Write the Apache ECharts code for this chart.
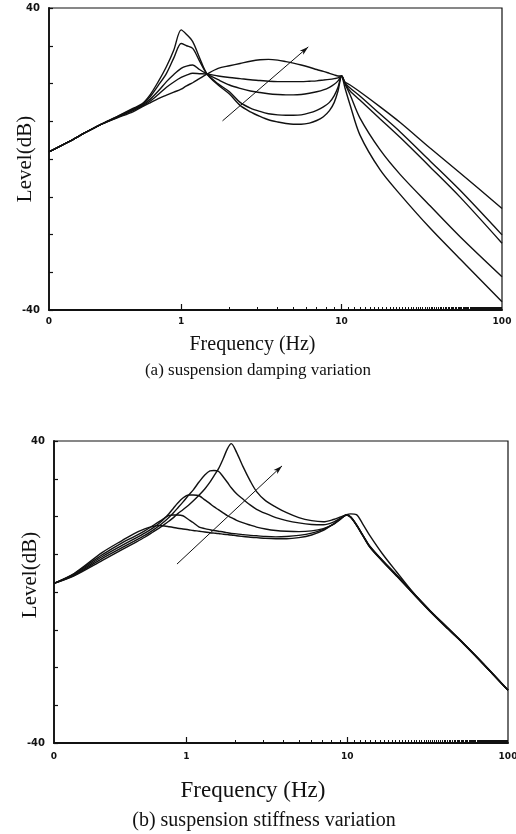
<!DOCTYPE html>
<html>
<head>
<meta charset="utf-8">
<script src="https://cdn.jsdelivr.net/npm/echarts@6/dist/echarts.min.js"></script>
<style>
  html, body { margin: 0; padding: 0; background: #ffffff; }
  #chart { width: 516px; height: 834px; }
</style>
</head>
<body>
<div id="chart"></div>
<script>
// ---- (a) suspension damping variation: level (dB) vs frequency (Hz) ----
const freqDamping = [0.15, 0.2, 0.25, 0.31, 0.4, 0.5, 0.57, 0.64, 0.72, 0.81, 0.9, 1.0, 1.08, 1.18, 1.3, 1.45,
  1.7, 2.0, 2.33, 2.7, 3.1, 3.5, 4.0, 4.5, 5.0, 5.6, 6.3, 7.0, 7.7, 8.4, 9.0, 9.5, 10.0, 10.5, 11.3, 13.0,
  17.4, 23.3, 35.6, 54.8, 100];
// lightest damping
const damping1 = [1.9, 4.6, 6.9, 9.0, 11.3, 13.4, 14.6, 17.0, 20.5, 24.5, 28.9, 34.2, 33.0, 31.1, 26.9, 22.5,
  19.6, 17.2, 14.2, 12.5, 11.3, 10.4, 9.8, 9.4, 9.2, 9.2, 9.5, 10.2, 11.2, 12.8, 15.0, 18.0, 22.0, 18.8, 14.3, 6.4,
  -2.9, -9.5, -18.3, -26.5, -37.8];
const damping2 = [1.9, 4.6, 6.9, 9.0, 11.2, 13.2, 14.4, 16.5, 19.5, 22.7, 26.8, 30.6, 30.0, 29.3, 26.0, 22.5,
  19.9, 17.8, 15.0, 13.5, 12.6, 12.0, 11.7, 11.6, 11.6, 11.7, 12.2, 12.9, 13.8, 15.0, 16.8, 19.0, 22.0, 19.9, 17.0, 10.9,
  2.4, -4.2, -12.4, -20.6, -31.2];
const damping3 = [1.9, 4.6, 6.9, 9.0, 11.1, 13.0, 14.2, 15.8, 18.0, 20.5, 22.4, 24.0, 24.6, 24.9, 23.7, 22.5,
  21.0, 19.6, 18.7, 18.0, 17.6, 17.3, 17.1, 17.0, 17.0, 17.1, 17.4, 17.8, 18.3, 19.0, 19.8, 20.7, 22.0, 20.0, 18.0, 15.6,
  10.6, 5.6, -2.1, -10.1, -22.3];
const damping4 = [1.9, 4.6, 6.9, 9.0, 11.0, 12.8, 14.0, 15.3, 17.1, 19.0, 20.4, 21.6, 22.2, 22.7, 22.6, 22.5,
  22.0, 21.6, 21.3, 21.0, 20.8, 20.6, 20.5, 20.5, 20.5, 20.5, 20.6, 20.7, 20.9, 21.1, 21.3, 21.5, 22.0, 20.0, 18.8, 16.7,
  11.9, 7.1, -0.5, -8.3, -20.1];
// heaviest damping
const damping5 = [1.9, 4.6, 6.9, 9.0, 10.9, 12.5, 13.8, 14.9, 16.0, 16.9, 17.7, 18.5, 19.4, 20.2, 21.3, 22.5,
  24.0, 24.7, 25.3, 25.9, 26.3, 26.4, 26.2, 25.8, 25.4, 24.9, 24.3, 23.7, 23.2, 22.7, 22.3, 22.0, 22.0, 20.4, 19.6, 17.8,
  13.8, 9.6, 2.9, -3.7, -13.1];

// ---- (b) suspension stiffness variation ----
const freqStiffness = [0.15, 0.2, 0.3, 0.4, 0.47, 0.55, 0.62, 0.68, 0.73, 0.78, 0.83, 0.88, 0.95, 1.03, 1.1, 1.2,
  1.3, 1.4, 1.48, 1.58, 1.7, 1.8, 1.9, 2.05, 2.26, 2.5, 2.73, 3.1, 3.6, 4.2, 5.0, 6.0, 7.1, 8.2, 9.1, 9.9, 10.5,
  11.4, 12.5, 13.8, 16.5, 20.3, 26, 32.6, 42, 52.7, 70, 100];
// softest spring
const stiffness1 = [2.3, 4.9, 10.5, 13.7, 15.4, 16.7, 17.4, 17.6, 17.5, 17.3, 17.1, 16.9, 16.7, 16.5, 16.3, 16.1,
  15.9, 15.7, 15.6, 15.5, 15.3, 15.2, 15.1, 14.9, 14.7, 14.5, 14.4, 14.2, 14.1, 14.1, 14.4, 15.1, 16.3, 18.0, 19.4, 20.4, 19.8,
  17.8, 15.0, 12.0, 8.3, 4.3, -0.6, -5.0, -9.6, -13.6, -19.0, -26.0];
const stiffness2 = [2.3, 4.8, 9.9, 13.1, 14.6, 16.2, 17.6, 18.7, 19.6, 20.3, 20.4, 20.4, 20.2, 19.2, 18.4, 17.2,
  16.8, 16.5, 16.3, 16.1, 15.9, 15.7, 15.5, 15.4, 15.2, 15.0, 14.9, 14.7, 14.6, 14.7, 15.0, 15.6, 16.6, 18.0, 19.4, 20.4, 19.9,
  17.8, 15.0, 12.1, 8.4, 4.4, -0.5, -4.9, -9.5, -13.6, -19.0, -26.0];
const stiffness3 = [2.3, 4.6, 9.4, 12.4, 14.0, 15.6, 17.0, 18.3, 19.5, 20.8, 22.2, 23.5, 24.9, 25.7, 25.7, 25.5,
  24.4, 23.4, 22.6, 21.8, 20.9, 20.2, 19.7, 19.0, 18.3, 17.7, 17.2, 16.7, 16.3, 16.1, 16.0, 16.2, 16.8, 17.9, 19.3, 20.4, 19.8,
  17.7, 14.9, 11.9, 8.2, 4.2, -0.7, -5.1, -9.7, -13.7, -19.1, -26.0];
const stiffness4 = [2.3, 4.4, 8.9, 11.8, 13.4, 15.0, 16.4, 17.6, 18.7, 19.8, 21.0, 22.2, 23.8, 25.6, 27.0, 29.2,
  31.0, 32.1, 32.2, 32.0, 30.4, 29.0, 27.6, 26.0, 24.5, 23.0, 21.9, 20.8, 19.7, 18.9, 18.3, 17.9, 17.8, 18.5, 19.6, 20.4, 19.9,
  17.9, 15.1, 12.2, 8.5, 4.5, -0.4, -4.8, -9.4, -13.5, -18.9, -26.0];
// stiffest spring
const stiffness5 = [2.3, 4.3, 8.4, 11.3, 12.9, 14.5, 15.9, 17.0, 17.9, 18.8, 19.7, 20.7, 21.8, 23.0, 24.1, 25.7,
  27.3, 29.1, 30.7, 32.6, 35.5, 38.0, 39.3, 37.0, 33.0, 29.3, 26.6, 24.2, 22.5, 21.0, 19.7, 18.9, 18.6, 19.2, 19.9, 20.5, 20.7,
  20.5, 18.0, 15.0, 10.2, 5.3, -0.4, -4.9, -9.5, -13.6, -19.0, -26.0];

// direction arrows ([frequency, level] from tail to head)
const dampingArrow = [[1.81, 10.1], [6.2, 29.7]];
const stiffnessArrow = [[0.873, 7.4], [3.93, 33.4]];

// axis ticks
const xTickValues = [0.15, 1, 10, 100];
const xTickText = ['0', '1', '10', '100'];
const xMajorTicks = [1, 10];
const xMinorTicks = [];
for (let v = 2; v <= 9; v++) xMinorTicks.push(v);
for (let v = 11; v <= 99; v++) xMinorTicks.push(v);

const INK = '#111';
const SERIF = "'Liberation Serif', 'DejaVu Serif', serif";
const TICKFONT = "'DejaVu Sans', sans-serif";

function xLabel(v) {
  const i = xTickValues.findIndex(t => Math.abs(Math.log10(t) - Math.log10(v)) < 1e-6);
  return i >= 0 ? xTickText[i] : '';
}

function xAxesFor(gridIndex, name, nameSize, nameGap, namePad, labelMargin) {
  const base = {
    type: 'log', logBase: 10, min: 0.15, max: 100, gridIndex: gridIndex, position: 'bottom',
    splitLine: { show: false }, minorTick: { show: false }, minorSplitLine: { show: false }
  };
  return [
    Object.assign({}, base, {
      name: name, nameLocation: 'middle', nameGap: nameGap, nameMoveOverlap: false,
      nameTextStyle: { fontFamily: SERIF, fontSize: nameSize, color: INK, padding: namePad },
      axisLine: { show: true, onZero: false, lineStyle: { color: INK, width: 1.8 } },
      axisTick: { show: true, inside: true, length: 6, customValues: xMajorTicks, lineStyle: { color: INK, width: 1.2 } },
      axisLabel: {
        show: true, customValues: xTickValues, margin: labelMargin, formatter: xLabel,
        fontFamily: TICKFONT, fontWeight: 'bold', fontSize: 9, color: INK
      }
    }),
    Object.assign({}, base, {
      axisLine: { show: false, onZero: false },
      axisLabel: { show: false },
      axisTick: { show: true, inside: true, length: 3, customValues: xMinorTicks, lineStyle: { color: INK, width: 1 } }
    })
  ];
}

function yAxisFor(gridIndex, namePad) {
  return {
    type: 'value', min: -40, max: 40, interval: 10, gridIndex: gridIndex,
    name: 'Level(dB)', nameLocation: 'middle', nameGap: 13, nameMoveOverlap: false,
    nameTextStyle: { fontFamily: SERIF, fontSize: 21, color: INK, padding: namePad },
    splitLine: { show: false },
    axisLine: { show: true, onZero: false, lineStyle: { color: INK, width: 1.8 } },
    axisTick: { show: true, inside: true, length: 4, lineStyle: { color: INK, width: 1.2 } },
    axisLabel: {
      margin: 9, fontFamily: TICKFONT, fontWeight: 'bold', fontSize: 10, color: INK,
      formatter: v => (v === 40 || v === -40) ? String(v) : ''
    }
  };
}

function curve(freqs, levels, xAxisIndex, yAxisIndex, arrow) {
  const s = {
    type: 'line', xAxisIndex: xAxisIndex, yAxisIndex: yAxisIndex,
    data: freqs.map((f, i) => [f, levels[i]]),
    symbol: 'none', showSymbol: false, smooth: 0.3, silent: true,
    lineStyle: { color: INK, width: 1.4 }
  };
  if (arrow) {
    s.markLine = {
      silent: true, symbol: ['none', 'arrow'], symbolSize: [4, 9],
      lineStyle: { color: INK, width: 1, type: 'solid' },
      label: { show: false },
      data: [[{ coord: arrow[0] }, { coord: arrow[1] }]]
    };
  }
  return s;
}

const chart = echarts.init(document.getElementById('chart'), null, { renderer: 'canvas' });

const topX = xAxesFor(0, 'Frequency (Hz)', 20, 25, [0, 46, 0, 0], 7);
const bottomX = xAxesFor(1, 'Frequency (Hz)', 23, 36, [0, 56, 0, 0], 9);

const gridBase = { show: true, borderColor: INK, borderWidth: 1.2, backgroundColor: 'transparent', containLabel: false, outerBoundsMode: 'none' };

chart.setOption({
  animation: false,
  backgroundColor: '#ffffff',
  grid: [
    Object.assign({ left: 49, right: 14, top: 8, height: 302 }, gridBase),
    Object.assign({ left: 54, right: 8, top: 441, height: 302 }, gridBase)
  ],
  xAxis: [topX[0], topX[1], bottomX[0], bottomX[1]],
  yAxis: [yAxisFor(0, [0, 0, 0, 0]), yAxisFor(1, [0, 0, 0, 34])],
  series: [
    curve(freqDamping, damping1, 0, 0, dampingArrow),
    curve(freqDamping, damping2, 0, 0),
    curve(freqDamping, damping3, 0, 0),
    curve(freqDamping, damping4, 0, 0),
    curve(freqDamping, damping5, 0, 0),
    curve(freqStiffness, stiffness1, 2, 1, stiffnessArrow),
    curve(freqStiffness, stiffness2, 2, 1),
    curve(freqStiffness, stiffness3, 2, 1),
    curve(freqStiffness, stiffness4, 2, 1),
    curve(freqStiffness, stiffness5, 2, 1)
  ],
  graphic: [
    { type: 'text', x: 258, y: 371, style: { text: '(a) suspension damping variation', font: "17px 'Liberation Serif', serif", fill: INK, textAlign: 'center', textVerticalAlign: 'middle' } },
    { type: 'text', x: 264, y: 821, style: { text: '(b) suspension stiffness variation', font: "20px 'Liberation Serif', serif", fill: INK, textAlign: 'center', textVerticalAlign: 'middle' } }
  ]
});
</script>
</body>
</html>
